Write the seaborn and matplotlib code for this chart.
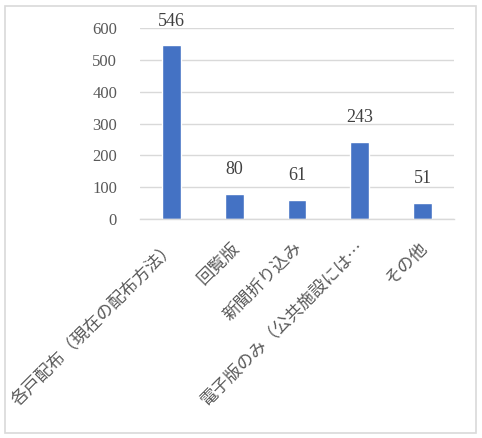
import matplotlib
matplotlib.use("Agg")
import matplotlib.pyplot as plt
import matplotlib.transforms as mtransforms
import seaborn as sns
import pandas as pd
from matplotlib.patches import Rectangle

categories = ["各戸配布（現在の配布方法）", "回覧版", "新聞折り込み", "電子版のみ（公共施設には…", "その他"]
values = [546, 80, 61, 243, 51]
yticks = [0, 100, 200, 300, 400, 500, 600]

sns.set_theme(style="white")
plt.rcParams['font.family'] = ['Liberation Serif', 'Noto Sans CJK JP', 'DejaVu Sans']

df = pd.DataFrame({"cat": categories, "val": values})

fig = plt.figure(figsize=(4.82, 4.38), dpi=100)
ax = fig.add_axes([140/482, 1 - 219/438, (454-140)/482, (219-28)/438])

sns.barplot(data=df, x="cat", y="val", color="#4472C4", width=0.3, ax=ax, saturation=1)

ax.set_ylim(0, 600)
ax.set_yticks(yticks)
ax.set_yticklabels([str(t) for t in yticks], fontsize=12, color="#595959",
                   family=['Liberation Serif'])
ax.tick_params(axis='y', length=0, pad=16.5)
ax.tick_params(axis='x', length=0, pad=14)
ax.set_xlabel("")
ax.set_ylabel("")
shift = mtransforms.ScaledTranslation(-4/100, 0, fig.dpi_scale_trans)
for lbl in ax.get_xticklabels():
    lbl.set_rotation(45)
    lbl.set_ha('right')
    lbl.set_rotation_mode('anchor')
    lbl.set_fontsize(12.4)
    lbl.set_color('#595959')
    lbl.set_family(['Noto Sans CJK JP', 'DejaVu Sans'])
    lbl.set_transform(lbl.get_transform() + shift)

ax.grid(axis='y', color='#d9d9d9', linewidth=1)
ax.set_axisbelow(True)
for s in ['top', 'right', 'left']:
    ax.spines[s].set_visible(False)
ax.spines['bottom'].set_color('#d9d9d9')
ax.spines['bottom'].set_linewidth(1)

for p, v in zip(ax.patches, values):
    ax.annotate(str(v), (p.get_x() + p.get_width()/2, p.get_height()),
                xytext=(0, 11), textcoords='offset points', ha='center', va='bottom',
                fontsize=13, color='#404040', family=['Liberation Serif'])

fig.patches.append(Rectangle((5/482, 1 - 433/438), (476-5)/482, (433-6)/438,
                             transform=fig.transFigure, fill=False,
                             edgecolor='#d9d9d9', linewidth=1.2))

fig.savefig("out.png", dpi=100)
